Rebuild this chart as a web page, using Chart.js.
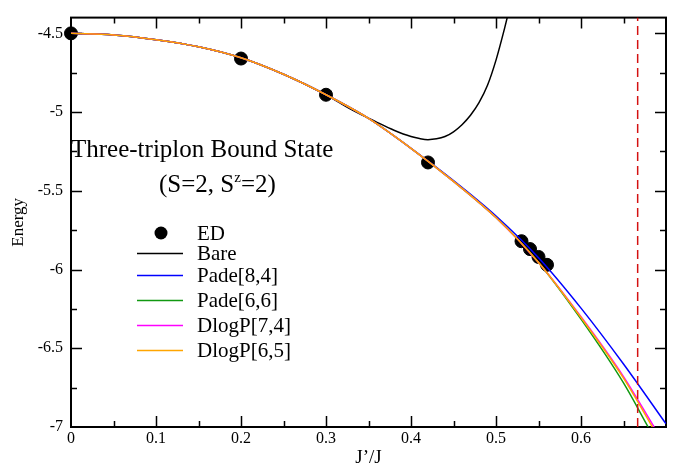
<!DOCTYPE html>
<html lang="en">
<head>
<meta charset="UTF-8">
<title>Three-triplon Bound State</title>
<script src="https://cdn.jsdelivr.net/npm/chart.js"></script>
<style>
  html, body { margin: 0; padding: 0; background: #fff; }
  #wrap { width: 676px; height: 466px; }
</style>
</head>
<body>
<div id="wrap"><canvas id="grafico"></canvas></div>
<script>
// ED points
const edX = [0, 0.2, 0.3, 0.42, 0.53, 0.54, 0.55, 0.56];
const edY = [-4.5, -4.66, -4.89, -5.32, -5.82, -5.87, -5.92, -5.97];

// Bare series
const bareX = [0, 0.05, 0.1, 0.15, 0.2, 0.25, 0.3, 0.33, 0.36, 0.38, 0.4, 0.41, 0.42, 0.43, 0.44, 0.45, 0.46, 0.47, 0.48, 0.49, 0.5, 0.51, 0.515];
const bareY = [-4.5, -4.51, -4.54, -4.585, -4.655, -4.76, -4.89, -4.985, -5.065, -5.115, -5.155, -5.168, -5.175, -5.17, -5.155, -5.125, -5.08, -5.02, -4.94, -4.83, -4.67, -4.47, -4.36];

// extrapolations
const pade84X = [0, 0.05, 0.1, 0.15, 0.2, 0.25, 0.3, 0.35, 0.4, 0.45, 0.5, 0.55, 0.6, 0.65, 0.7];
const pade84Y = [-4.5, -4.51, -4.54, -4.585, -4.655, -4.76, -4.89, -5.04, -5.23, -5.435, -5.66, -5.925, -6.245, -6.6, -6.98];

const pade66X = [0, 0.05, 0.1, 0.15, 0.2, 0.25, 0.3, 0.35, 0.4, 0.45, 0.5, 0.55, 0.6, 0.65, 0.679];
const pade66Y = [-4.5, -4.51, -4.54, -4.585, -4.655, -4.76, -4.89, -5.04, -5.23, -5.44, -5.67, -5.955, -6.315, -6.72, -7.0];

const dlog74X = [0, 0.05, 0.1, 0.15, 0.2, 0.25, 0.3, 0.35, 0.4, 0.45, 0.5, 0.55, 0.6, 0.65, 0.686];
const dlog74Y = [-4.5, -4.51, -4.54, -4.585, -4.655, -4.76, -4.89, -5.04, -5.23, -5.44, -5.67, -5.955, -6.3, -6.68, -7.0];

const dlog65X = [0, 0.05, 0.1, 0.15, 0.2, 0.25, 0.3, 0.35, 0.4, 0.45, 0.5, 0.55, 0.6, 0.65, 0.684];
const dlog65Y = [-4.5, -4.51, -4.54, -4.585, -4.655, -4.76, -4.89, -5.04, -5.23, -5.44, -5.67, -5.955, -6.305, -6.69, -7.0];

// vertical marker at J'/J = 2/3
const marcaX = [2 / 3, 2 / 3];
const marcaY = [-7, -4.4];

// tick values (labels only on the major ones)
const xTicks = [0, 0.05, 0.1, 0.15, 0.2, 0.25, 0.3, 0.35, 0.4, 0.45, 0.5, 0.55, 0.6, 0.65, 0.7];
const xLabels = ['0', '', '0.1', '', '0.2', '', '0.3', '', '0.4', '', '0.5', '', '0.6', '', ''];
const yTicks = [-7, -6.75, -6.5, -6.25, -6, -5.75, -5.5, -5.25, -5, -4.75, -4.5];
const yLabels = ['-7', '', '-6.5', '', '-6', '', '-5.5', '', '-5', '', '-4.5'];

const FONT = "'Liberation Serif', 'DejaVu Serif', serif";

function puntos(xs, ys) {
  return xs.map((x, i) => ({ x: x, y: ys[i] }));
}

function curva(label, xs, ys, color, order) {
  return {
    label, data: puntos(xs, ys),
    borderColor: color, backgroundColor: color,
    borderWidth: 1.5, pointRadius: 0,
    cubicInterpolationMode: 'monotone',
    fill: false, order
  };
}

const leyenda = [
  { texto: 'ED', color: '#000', punto: true, y: 233 },
  { texto: 'Bare', color: '#000', y: 253 },
  { texto: 'Pade[8,4]', color: '#0000ff', y: 275 },
  { texto: 'Pade[6,6]', color: '#119911', y: 300 },
  { texto: 'DlogP[7,4]', color: '#ff00ff', y: 325 },
  { texto: 'DlogP[6,5]', color: '#ffa500', y: 350 }
];

// frame with inward ticks, annotation text and legend
const extras = {
  id: 'extras',
  beforeDatasetsDraw(chart) {
    const ctx = chart.ctx;
    const a = chart.chartArea;
    const sx = chart.scales.x, sy = chart.scales.y;
    ctx.save();
    ctx.strokeStyle = '#000';
    ctx.lineWidth = 2;
    ctx.strokeRect(a.left, a.top, a.right - a.left, a.bottom - a.top);

    ctx.lineWidth = 1.5;
    ctx.beginPath();
    xTicks.forEach((v, i) => {
      if (i === 0 || i === xTicks.length - 1) return;
      const len = xLabels[i] ? 11 : 6;
      const px = Math.round(sx.getPixelForValue(v)) + 0.5;
      ctx.moveTo(px, a.bottom); ctx.lineTo(px, a.bottom - len);
      ctx.moveTo(px, a.top); ctx.lineTo(px, a.top + len);
    });
    yTicks.forEach((v, i) => {
      if (i === 0) return;
      const len = yLabels[i] ? 11 : 6;
      const py = Math.round(sy.getPixelForValue(v)) + 0.5;
      ctx.moveTo(a.left, py); ctx.lineTo(a.left + len, py);
      ctx.moveTo(a.right, py); ctx.lineTo(a.right - len, py);
    });
    ctx.stroke();
    ctx.restore();
  },
  afterDraw(chart) {
    const ctx = chart.ctx;
    ctx.save();
    ctx.fillStyle = '#000';
    ctx.textBaseline = 'alphabetic';
    ctx.textAlign = 'left';
    ctx.font = '25px ' + FONT;
    ctx.fillText('Three-triplon Bound State', 71, 157);
    let x = 159;
    const partes = [['(S=2, S', 25, 0], ['z', 15, -10], ['=2)', 25, 0]];
    partes.forEach(p => {
      ctx.font = p[1] + 'px ' + FONT;
      ctx.fillText(p[0], x, 192 + p[2]);
      x += ctx.measureText(p[0]).width;
    });

    ctx.font = '21px ' + FONT;
    leyenda.forEach(l => {
      if (l.punto) {
        ctx.fillStyle = l.color;
        ctx.beginPath();
        ctx.arc(161, l.y, 6.5, 0, Math.PI * 2);
        ctx.fill();
      } else {
        ctx.strokeStyle = l.color;
        ctx.lineWidth = 1.5;
        ctx.beginPath();
        ctx.moveTo(137, l.y + 0.5); ctx.lineTo(183, l.y + 0.5);
        ctx.stroke();
      }
      ctx.fillStyle = '#000';
      ctx.fillText(l.texto, 197, l.y + 7);
    });
    ctx.restore();
  }
};

Chart.defaults.font.family = FONT;
Chart.defaults.color = '#000';

new Chart(document.getElementById('grafico'), {
  type: 'line',
  data: {
    datasets: [
      {
        label: 'ED', data: puntos(edX, edY), showLine: false,
        pointRadius: 6.5, pointHoverRadius: 6.5, clip: false,
        pointBackgroundColor: '#000', pointBorderColor: '#000', order: 10
      },
      curva('Bare', bareX, bareY, '#000000', 6),
      curva('Pade[8,4]', pade84X, pade84Y, '#0000ff', 5),
      curva('Pade[6,6]', pade66X, pade66Y, '#119911', 4),
      curva('DlogP[7,4]', dlog74X, dlog74Y, '#ff00ff', 3),
      curva('DlogP[6,5]', dlog65X, dlog65Y, '#ffa500', 2),
      {
        label: 'limite', data: puntos(marcaX, marcaY),
        borderColor: '#d41111', borderWidth: 1.5, borderDash: [9, 5],
        pointRadius: 0, fill: false, order: 1
      }
    ]
  },
  options: {
    responsive: true,
    maintainAspectRatio: false,
    animation: false,
    layout: { padding: { top: 10, right: 10, left: 0, bottom: 0 } },
    plugins: { legend: { display: false }, tooltip: { enabled: false } },
    scales: {
      x: {
        type: 'linear', min: 0, max: 0.7,
        grid: { display: false, drawTicks: false },
        border: { display: false },
        afterBuildTicks: s => { s.ticks = xTicks.map(v => ({ value: v })); },
        ticks: {
          padding: 2, autoSkip: false, maxRotation: 0,
          font: { size: 16 },
          callback: (v, i) => xLabels[i]
        },
        title: { display: true, text: 'J’/J', font: { size: 19 }, padding: { top: 0, bottom: -3 } },
        afterFit: s => { s.height = 39; }
      },
      y: {
        min: -7, max: -4.4,
        grid: { display: false, drawTicks: false },
        border: { display: false },
        afterBuildTicks: s => { s.ticks = yTicks.map(v => ({ value: v })); },
        ticks: {
          padding: 8, autoSkip: false,
          font: { size: 16 },
          callback: (v, i) => yLabels[i]
        },
        title: { display: true, text: 'Energy', font: { size: 17 }, padding: { top: 8, bottom: 0 } },
        afterFit: s => { s.width = 71; }
      }
    }
  },
  plugins: [extras]
});
</script>
</body>
</html>
